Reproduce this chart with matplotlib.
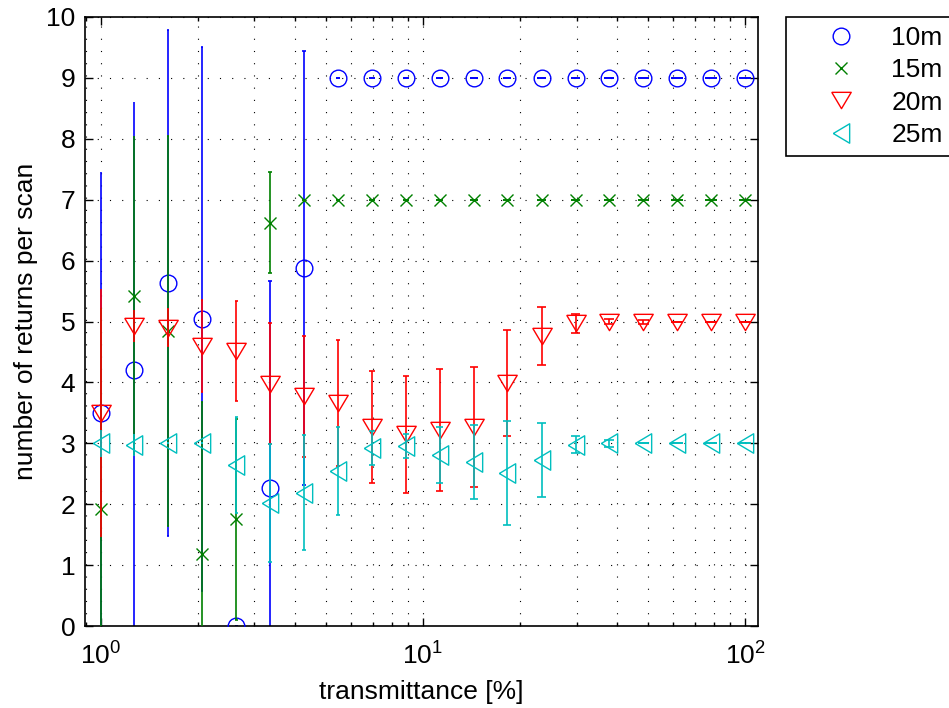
import numpy as np
import matplotlib
matplotlib.use('Agg')
import matplotlib.pyplot as plt
from matplotlib.ticker import LogLocator, MultipleLocator

plt.rcParams['font.family'] = ['Liberation Sans', 'DejaVu Sans']
plt.rcParams['mathtext.default'] = 'regular'
plt.rcParams['font.size'] = 19

# transmittance [%]
transmittance = [1.0, 1.27, 1.62, 2.07, 2.64, 3.36, 4.28, 5.46, 6.95, 8.86,
                 11.3, 14.4, 18.3, 23.4, 29.8, 37.9, 48.3, 61.6, 78.5, 100.0]

labels = ['10m', '15m', '20m', '25m']

mean_10m = [3.5, 4.2, 5.63, 5.04, 0.0, 2.27, 5.88, 9, 9, 9, 9, 9, 9, 9, 9, 9, 9, 9, 9, 9]
std_10m = [3.95, 4.41, 4.16, 4.47, 0.0, 3.39, 3.56, 0, 0, 0, 0, 0, 0, 0, 0, 0, 0, 0, 0, 0]

mean_15m = [1.92, 5.42, 4.85, 1.18, 1.75, 6.62, 7, 7, 7, 7, 7, 7, 7, 7, 7, 7, 7, 7, 7, 7]
std_15m = [3.3, 2.62, 3.2, 2.5, 1.65, 0.83, 0, 0, 0, 0, 0, 0, 0, 0, 0, 0, 0, 0, 0, 0]

mean_20m = [3.5, 4.93, 4.9, 4.6, 4.51, 3.98, 3.77, 3.66, 3.27, 3.15,
            3.22, 3.27, 3.99, 4.76, 4.97, 5.0, 4.99, 5.0, 5.0, 5.0]
std_20m = [2.04, 0.26, 0.31, 0.75, 0.82, 0.99, 1.0, 1.03, 0.92, 0.96,
           1.0, 0.98, 0.87, 0.47, 0.16, 0.04, 0.03, 0, 0, 0]

mean_25m = [3.0, 2.97, 3.0, 3.0, 2.64, 2.02, 2.19, 2.55, 2.92, 2.96,
            2.81, 2.69, 2.51, 2.73, 2.98, 3.0, 3.0, 3.0, 3.0, 3.0]
std_25m = [0.22, 0.18, 0.0, 0.0, 0.79, 0.97, 0.94, 0.72, 0.28, 0.2,
           0.46, 0.61, 0.85, 0.61, 0.14, 0.06, 0, 0, 0, 0]

series = [(mean_10m, std_10m), (mean_15m, std_15m), (mean_20m, std_20m), (mean_25m, std_25m)]
colors = ['#0000ff', '#008000', '#ff0000', '#00bfbf']

# matlab style triangles (a bit flatter than matplotlib's)
h = 0.84
tri_down = [(-1, h), (1, h), (0, -h), (-1, h)]
tri_left = [(-h, 0), (h, 1), (h, -1), (-h, 0)]
markers = ['o', 'x', tri_down, tri_left]
msizes = [12, 9, 14, 14]

fig = plt.figure(figsize=(9.49, 7.08), dpi=100)
ax = fig.add_axes([0.0896, 0.1158, 0.7088, 0.8602])

x = np.array(transmittance)
z = 2
for (m, s), c, mk, ms, lab in zip(series, colors, markers, msizes, labels):
    m = np.array(m)
    s = np.array(s)
    ax.vlines(x, m - s, m + s, color=c, lw=1.2, zorder=z)
    # caps, width grows with x like in the original
    xl = x ** 0.99
    xr = x ** 1.01
    ax.hlines(m - s, xl, xr, color=c, lw=1.2, zorder=z)
    ax.hlines(m + s, xl, xr, color=c, lw=1.2, zorder=z)
    ax.plot(x, m, linestyle='none', marker=mk, markersize=ms, markerfacecolor='none',
            markeredgecolor=c, markeredgewidth=1.0, label=lab, zorder=z + 1)
    z += 2

ax.set_xscale('log')
ax.set_xlim(0.895, 109.5)
ax.set_ylim(0, 10)
ax.yaxis.set_major_locator(MultipleLocator(1))
ax.xaxis.set_major_locator(LogLocator(base=10))
ax.xaxis.set_minor_locator(LogLocator(base=10, subs=np.arange(2, 10)))

dots = (0, (1, 10))
ax.grid(True, which='major', axis='both', color='k', linestyle=dots, linewidth=0.8)
ax.grid(True, which='minor', axis='x', color='k', linestyle=dots, linewidth=0.8)
ax.set_axisbelow(True)

ax.tick_params(which='both', direction='in', top=True, right=True, width=1.0)
ax.tick_params(which='major', length=6, labelsize=19)
ax.tick_params(axis='y', which='major', pad=7)
ax.tick_params(axis='x', which='major', pad=12)
ax.tick_params(which='minor', length=3)
for sp in ax.spines.values():
    sp.set_linewidth(1.2)

ax.set_xlabel('transmittance [%]', fontsize=19, labelpad=7)
ax.set_ylabel('number of returns per scan', fontsize=19, labelpad=6)

leg = ax.legend(loc='upper left', bbox_to_anchor=(1.042, 1.0), borderaxespad=0,
                fancybox=False, edgecolor='k', framealpha=1, fontsize=19,
                labelspacing=0.31, handletextpad=0.15, borderpad=0.35, handlelength=3.5)
leg.get_frame().set_linewidth(1.2)

fig.savefig('out.png', dpi=100)
